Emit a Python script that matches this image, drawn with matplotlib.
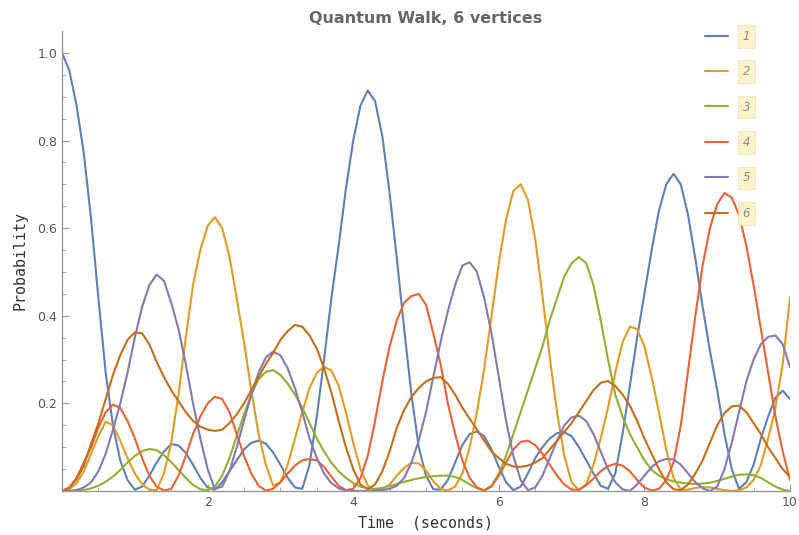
import numpy as np
import matplotlib
matplotlib.use("Agg")
import matplotlib.pyplot as plt

# ----------------------------
# Data (read off the reference, sampled every 0.1 s from 0 to 10)
# ----------------------------
t = np.linspace(0, 10, 101)

p1 = [1.0, 0.96, 0.88, 0.77, 0.62, 0.44, 0.27, 0.15, 0.07, 0.025,
      0.003, 0.01, 0.035, 0.065, 0.09, 0.107, 0.104, 0.087, 0.06, 0.03,
      0.008, 0.003, 0.02, 0.045, 0.07, 0.095, 0.11, 0.115, 0.108, 0.088,
      0.06, 0.03, 0.008, 0.005, 0.06, 0.17, 0.30, 0.44, 0.56, 0.69,
      0.80, 0.88, 0.914, 0.89, 0.81, 0.68, 0.53, 0.37, 0.22, 0.10,
      0.035, 0.004, 0.003, 0.025, 0.065, 0.105, 0.13, 0.136, 0.125, 0.095,
      0.055, 0.02, 0.002, 0.01, 0.04, 0.075, 0.10, 0.12, 0.132, 0.134,
      0.125, 0.10, 0.07, 0.04, 0.012, 0.005, 0.04, 0.13, 0.24, 0.35,
      0.45, 0.55, 0.64, 0.70, 0.724, 0.70, 0.63, 0.53, 0.42, 0.32,
      0.23, 0.13, 0.05, 0.005, 0.02, 0.06, 0.12, 0.17, 0.213, 0.229,
      0.21]

p2 = [0.0, 0.004, 0.018, 0.045, 0.085, 0.125, 0.158, 0.15, 0.115, 0.075,
      0.04, 0.015, 0.003, 0.002, 0.04, 0.11, 0.22, 0.35, 0.47, 0.55,
      0.605, 0.625, 0.60, 0.535, 0.44, 0.34, 0.23, 0.13, 0.06, 0.012,
      0.02, 0.06, 0.12, 0.18, 0.235, 0.27, 0.284, 0.275, 0.24, 0.18,
      0.11, 0.05, 0.012, 0.002, 0.004, 0.015, 0.035, 0.053, 0.064, 0.063,
      0.047, 0.022, 0.005, 0.001, 0.01, 0.04, 0.10, 0.18, 0.28, 0.40,
      0.52, 0.62, 0.685, 0.70, 0.665, 0.575, 0.445, 0.305, 0.18, 0.08,
      0.02, 0.002, 0.015, 0.06, 0.12, 0.19, 0.27, 0.34, 0.375, 0.37,
      0.33, 0.26, 0.18, 0.095, 0.03, 0.003, 0.003, 0.007, 0.009, 0.008,
      0.005, 0.002, 0.0, 0.002, 0.008, 0.025, 0.06, 0.12, 0.19, 0.29,
      0.442]

p3 = [0.0, 0.0, 0.0005, 0.002, 0.006, 0.012, 0.021, 0.033, 0.048, 0.065,
      0.08, 0.091, 0.096, 0.093, 0.082, 0.066, 0.048, 0.03, 0.014, 0.004,
      0.002, 0.01, 0.035, 0.075, 0.125, 0.175, 0.22, 0.255, 0.272, 0.276,
      0.265, 0.245, 0.22, 0.19, 0.155, 0.12, 0.09, 0.065, 0.045, 0.03,
      0.018, 0.01, 0.006, 0.005, 0.007, 0.011, 0.016, 0.021, 0.025, 0.029,
      0.032, 0.034, 0.035, 0.035, 0.032, 0.025, 0.015, 0.006, 0.002, 0.012,
      0.04, 0.08, 0.13, 0.18, 0.23, 0.28, 0.33, 0.39, 0.44, 0.49,
      0.52, 0.534, 0.52, 0.47, 0.39, 0.30, 0.22, 0.17, 0.13, 0.10,
      0.07, 0.048, 0.035, 0.027, 0.022, 0.019, 0.017, 0.016, 0.017, 0.019,
      0.023, 0.028, 0.033, 0.037, 0.038, 0.036, 0.03, 0.02, 0.01, 0.003,
      0.0]

p4 = [0.0, 0.008, 0.03, 0.065, 0.1, 0.145, 0.18, 0.197, 0.19, 0.16,
      0.12, 0.075, 0.035, 0.01, 0.001, 0.005, 0.035, 0.08, 0.13, 0.17,
      0.2, 0.215, 0.21, 0.18, 0.13, 0.08, 0.04, 0.012, 0.001, 0.005,
      0.02, 0.04, 0.058, 0.07, 0.073, 0.07, 0.055, 0.033, 0.012, 0.002,
      0.005, 0.03, 0.08, 0.16, 0.25, 0.33, 0.39, 0.43, 0.445, 0.45,
      0.425, 0.36, 0.29, 0.2, 0.13, 0.07, 0.03, 0.008, 0.001, 0.01,
      0.035, 0.065, 0.095, 0.112, 0.115, 0.105, 0.085, 0.06, 0.035, 0.015,
      0.003, 0.003, 0.013, 0.028, 0.045, 0.057, 0.062, 0.058, 0.045, 0.025,
      0.008, 0.001, 0.005, 0.025, 0.065, 0.15, 0.275, 0.40, 0.515, 0.60,
      0.655, 0.68, 0.67, 0.63, 0.56, 0.47, 0.37, 0.27, 0.17, 0.09,
      0.025]

p5 = [0.0, 0.0, 0.002, 0.008, 0.02, 0.045, 0.085, 0.14, 0.2, 0.27,
      0.35, 0.42, 0.47, 0.494, 0.48, 0.43, 0.37, 0.29, 0.2, 0.12,
      0.05, 0.005, 0.01, 0.045, 0.1, 0.16, 0.22, 0.27, 0.305, 0.318,
      0.31, 0.28, 0.235, 0.18, 0.12, 0.075, 0.04, 0.018, 0.006, 0.001,
      0.0, 0.0, 0.0, 0.001, 0.002, 0.005, 0.012, 0.03, 0.065, 0.115,
      0.18, 0.26, 0.34, 0.41, 0.47, 0.515, 0.522, 0.50, 0.44, 0.36,
      0.26, 0.16, 0.08, 0.025, 0.002, 0.008, 0.035, 0.075, 0.115, 0.15,
      0.168, 0.172, 0.16, 0.13, 0.09, 0.05, 0.02, 0.004, 0.0, 0.015,
      0.035, 0.055, 0.068, 0.073, 0.072, 0.06, 0.04, 0.02, 0.006, 0.0,
      0.01, 0.05, 0.11, 0.18, 0.25, 0.30, 0.335, 0.352, 0.355, 0.335,
      0.283]

p6 = [0.0, 0.007, 0.027, 0.058, 0.108, 0.155, 0.21, 0.265, 0.31, 0.345,
      0.362, 0.36, 0.335, 0.295, 0.26, 0.23, 0.205, 0.18, 0.16, 0.147,
      0.14, 0.137, 0.14, 0.155, 0.175, 0.2, 0.23, 0.26, 0.29, 0.315,
      0.345, 0.365, 0.379, 0.375, 0.355, 0.325, 0.28, 0.225, 0.16, 0.1,
      0.05, 0.015, 0.004, 0.015, 0.045, 0.09, 0.145, 0.185, 0.215, 0.235,
      0.25, 0.258, 0.26, 0.245, 0.22, 0.19, 0.165, 0.14, 0.115, 0.09,
      0.075, 0.062, 0.056, 0.055, 0.058, 0.065, 0.075, 0.095, 0.115, 0.135,
      0.155, 0.18, 0.205, 0.23, 0.247, 0.251, 0.24, 0.22, 0.195, 0.16,
      0.12, 0.085, 0.05, 0.02, 0.004, 0.002, 0.015, 0.04, 0.07, 0.11,
      0.15, 0.178, 0.193, 0.195, 0.18, 0.155, 0.13, 0.1, 0.075, 0.05,
      0.032]

labels = ["1", "2", "3", "4", "5", "6"]
series = [p1, p2, p3, p4, p5, p6]
colors = ["#5E81B5", "#E19C24", "#8FB131", "#EB6235", "#8778B3", "#C56E1A"]

# ----------------------------
# Plot
# ----------------------------
fig = plt.figure(figsize=(7.99, 5.35), dpi=100)
ax = fig.add_axes([62 / 799, 44 / 535, 728 / 799, 460 / 535])

for y, c, lab in zip(series, colors, labels):
    ax.plot(t, y, color=c, lw=1.5, label=lab, solid_capstyle="round",
            solid_joinstyle="round")

ax.set_xlim(0, 10)
ax.set_ylim(0, 1.05)

axis_gray = "#9a9a9a"
for side in ["top", "right"]:
    ax.spines[side].set_visible(False)
for side in ["left", "bottom"]:
    ax.spines[side].set_color(axis_gray)
    ax.spines[side].set_linewidth(1.0)

ax.set_xticks([2, 4, 6, 8, 10])
ax.set_xticks(np.arange(0.5, 10, 0.5), minor=True)
ax.set_yticks([0.2, 0.4, 0.6, 0.8, 1.0])
ax.set_yticklabels(["0.2", "0.4", "0.6", "0.8", "1.0"])
ax.set_yticks(np.arange(0.05, 1.05, 0.05), minor=True)
ax.tick_params(which="both", direction="in", colors=axis_gray,
               labelcolor="#555555", labelsize=9)
ax.tick_params(which="major", length=5)
ax.tick_params(which="minor", length=3)

ax.set_title("Quantum Walk, 6 vertices", fontsize=11.5, fontweight="bold",
             color="#666666", pad=6)
ax.set_xlabel("Time  (seconds)", family="DejaVu Sans Mono", fontsize=10.8,
              color="#333333", labelpad=5)
ax.set_ylabel("Probability", family="DejaVu Sans Mono", fontsize=10.8,
              color="#333333", labelpad=7)

leg = ax.legend(loc="upper left", bbox_to_anchor=(700 / 799, 1 - 25 / 535),
                bbox_transform=fig.transFigure, frameon=False, fontsize=8.5,
                handlelength=2.0, handletextpad=1.2, labelspacing=1.9,
                borderaxespad=0)
for txt in leg.get_texts():
    txt.set_style("italic")
    txt.set_color("#8a8a8a")
    txt.set_bbox(dict(facecolor="#fdf3c8", edgecolor="#e0d39a",
                      linestyle=":", linewidth=0.8, pad=3.5))

fig.savefig("out.png", dpi=100)
